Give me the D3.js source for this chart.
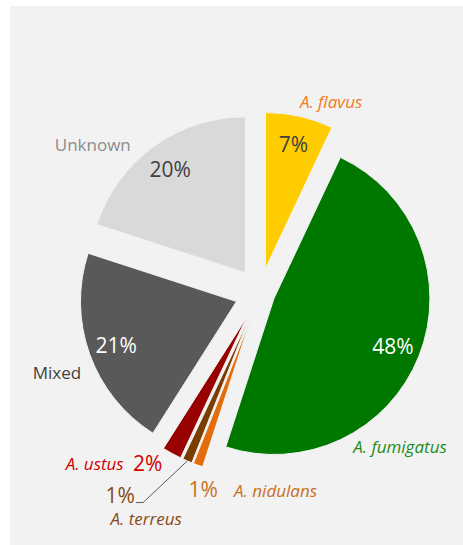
<!DOCTYPE html>
<html lang="en">
<head>
<meta charset="utf-8">
<title>Aspergillus species</title>
<script src="https://d3js.org/d3.v7.min.js"></script>
<style>
  body { margin: 0; background: #fff; }
  text { font-family: "Open Sans", "Noto Sans", sans-serif; }
</style>
</head>
<body>
<svg width="463" height="545"></svg>
<script>
// slices, clockwise from 12 o'clock
var species = ["A. flavus", "A. fumigatus", "A. nidulans", "A. terreus", "A. ustus", "Mixed", "Unknown"];
var percents = [7, 48, 1, 1, 2, 21, 20];
var fills = ["#ffcc00", "#007800", "#e46c0a", "#7a3d00", "#990000", "#595959", "#d9d9d9"];
var nameColors = ["#f47b20", "#1e8c1e", "#c8701c", "#8a4a12", "#d00000", "#404040", "#8c8c8c"];

var svg = d3.select("svg");
var W = 463, H = 545;

// grey panel
svg.append("rect")
  .attr("x", 10).attr("y", 6)
  .attr("width", W - 10).attr("height", H - 6)
  .attr("fill", "#f2f2f2");

var cx = 260, cy = 293, R = 156;
var g = svg.append("g").attr("transform", "translate(" + cx + "," + cy + ")");

var pie = d3.pie().sort(null).value(d => d);
var arcs = pie(percents);
var arc = d3.arc().innerRadius(0).outerRadius(R);

function mid(d) { return (d.startAngle + d.endAngle) / 2; }
// how far each slice is pulled out
function explode(i) { return i === 1 ? 15 : (i >= 2 && i <= 4 ? 27 : 25); }
function offs(d, i) {
  var a = mid(d), e = explode(i);
  return [Math.sin(a) * e, -Math.cos(a) * e];
}

var slices = g.selectAll("g.slice")
  .data(arcs)
  .enter().append("g")
  .attr("class", "slice")
  .attr("transform", (d, i) => { var o = offs(d, i); return "translate(" + o[0] + "," + o[1] + ")"; });

slices.append("path")
  .attr("d", arc)
  .attr("fill", (d, i) => fills[i])
  .attr("stroke", "#f2f2f2")
  .attr("stroke-width", 1);

// percentages inside the big slices
slices.filter(d => d.data >= 5)
  .append("text")
  .attr("transform", d => {
    var a = mid(d), r = R * 0.82;
    return "translate(" + Math.sin(a) * r + "," + (-Math.cos(a) * r) + ")";
  })
  .attr("text-anchor", "middle")
  .attr("dominant-baseline", "central")
  .attr("font-size", 21)
  .attr("fill", d => (d.index === 1 || d.index === 5) ? "#ffffff" : "#404040")
  .text(d => d.data + "%");

// outside labels, placed by angle (deg) and radius from the pie centre
var labelSpots = [
  {a: 20.4, r: 204}, {a: 137.7, r: 208}, {a: 196.2, r: 204},
  {a: 214.5, r: 247}, {a: 213.4, r: 204}, {a: 248.7, r: 218}, {a: 311.7, r: 224}
];
function spot(i) {
  var a = labelSpots[i].a * Math.PI / 180, r = labelSpots[i].r;
  return [Math.sin(a) * r, -Math.cos(a) * r];
}

var lab = g.append("g");
function nameText(i, x, y, anchor) {
  return lab.append("text")
    .attr("x", x).attr("y", y)
    .attr("text-anchor", anchor)
    .attr("dominant-baseline", "central")
    .attr("font-size", 17)
    .attr("font-style", i <= 4 ? "italic" : "normal")
    .attr("fill", nameColors[i])
    .text(species[i]);
}
function pctText(i, x, y) {
  return lab.append("text")
    .attr("x", x).attr("y", y)
    .attr("text-anchor", "middle")
    .attr("dominant-baseline", "central")
    .attr("font-size", 21)
    .attr("fill", nameColors[i])
    .text(percents[i] + "%");
}

[0, 1, 5, 6].forEach(i => { var p = spot(i); nameText(i, p[0], p[1], "middle"); });

// A. nidulans: "1%" then name
var pn = spot(2);
pctText(2, pn[0], pn[1]);
nameText(2, pn[0] + 31, pn[1] + 2, "start");

// A. ustus: name then "2%"
var pu = spot(4);
pctText(4, pu[0], pu[1]);
nameText(4, pu[0] - 24, pu[1], "end");

// A. terreus: "1%" over name, with leader line
var pt = spot(3);
pctText(3, pt[0], pt[1] - 2);
nameText(3, pt[0] + 26, pt[1] + 22, "middle");
var ta = arcs[3], to = offs(ta, 3), tm = mid(ta);
var edge = [to[0] + Math.sin(tm) * R, to[1] - Math.cos(tm) * R];
lab.append("path")
  .attr("d", d3.line()([edge, [pt[0] + 23, pt[1] + 6], [pt[0] + 16, pt[1] + 6]]))
  .attr("fill", "none")
  .attr("stroke", "#333")
  .attr("stroke-width", 0.8);
</script>
</body>
</html>
